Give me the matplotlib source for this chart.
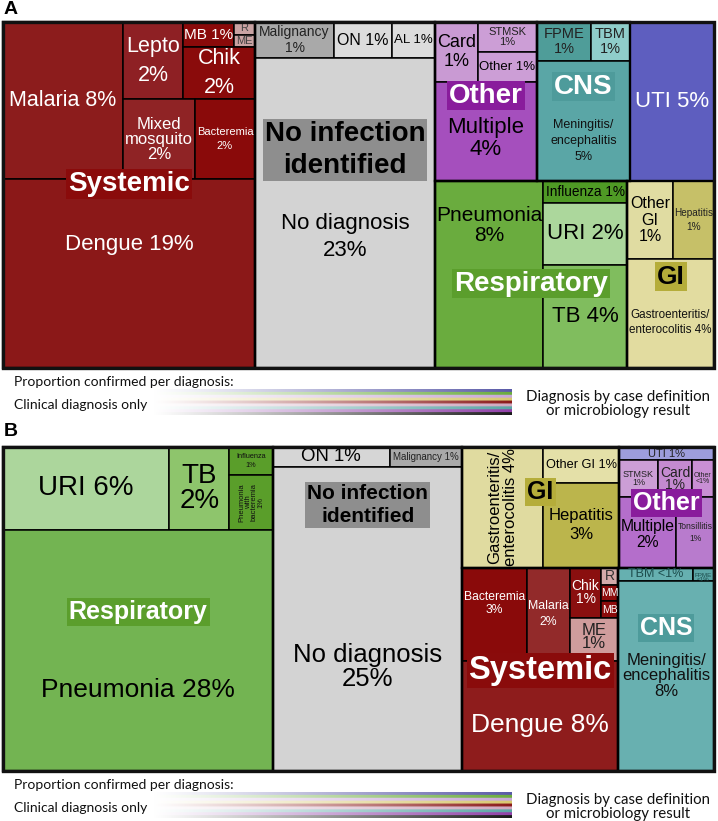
import numpy as np
import matplotlib.pyplot as plt
from matplotlib.patches import Rectangle
from matplotlib.colors import to_rgb

# Panel A: share of patients (%) per diagnosis
a_names = ['Malaria', 'Lepto', 'MB', 'R', 'ME', 'Chik', 'Mixed', 'Bacteremia', 'Dengue',
           'Malignancy', 'ON', 'AL', 'No diagnosis',
           'Card', 'STMSK', 'Other 1%', 'Multiple',
           'FPME', 'TBM', 'Meningitis', 'UTI',
           'Pneumonia', 'Influenza', 'URI', 'TB',
           'Other GI', 'Hepatitis', 'Gastro']
a_values = [7.66, 1.88, 0.52, 0.11, 0.11, 1.52, 2.34, 1.95, 19.36,
            1.16, 0.85, 0.63, 22.68,
            1.05, 0.72, 0.72, 4.10,
            0.86, 0.62, 4.54, 5.43,
            8.21, 0.75, 2.12, 3.52,
            1.46, 1.30, 3.85]

# Panel B
b_names = ['URI', 'TB', 'Influenza', 'PwB', 'Pneumonia',
           'ON', 'Malignancy', 'No diagnosis',
           'Gastro', 'Other GI', 'Hepatitis',
           'UTI', 'STMSK', 'Card', 'Other', 'Multiple', 'Tonsillitis',
           'Bacteremia', 'Malaria', 'Chik', 'R', 'MM', 'MB', 'ME', 'Dengue',
           'TBM', 'FPME', 'Meningitis']
b_values = [5.98, 2.16, 0.53, 1.05, 28.25,
            1.01, 0.63, 24.94,
            4.25, 1.17, 2.77,
            0.54, 0.64, 0.54, 0.36, 1.76, 1.15,
            2.62, 1.74, 0.67, 0.125, 0.125, 0.12, 0.90, 7.45,
            0.42, 0.12, 7.92]

# how the boxes nest: 'h' = side by side, 'v' = stacked; optional 3rd item = group name
a_tree = ('h', [
    ('v', [('h', ['Malaria',
                  ('v', [('h', ['Lepto', ('v', [('h', ['MB', ('v', ['R', 'ME'])]), 'Chik'])]),
                         ('h', ['Mixed', 'Bacteremia'])])]),
           'Dengue'], 'Systemic'),
    ('v', [('h', ['Malignancy', 'ON', 'AL']), 'No diagnosis'], 'No infection'),
    ('v', [('h', [('v', [('h', ['Card', ('v', ['STMSK', 'Other 1%'])]), 'Multiple'], 'Other'),
                  ('v', [('h', ['FPME', 'TBM']), 'Meningitis'], 'CNS'),
                  'UTI']),
           ('h', [('h', ['Pneumonia', ('v', ['Influenza', 'URI', 'TB'])], 'Respiratory'),
                  ('v', [('h', ['Other GI', 'Hepatitis']), 'Gastro'], 'GI')])]),
])

b_tree = ('h', [
    ('v', [('h', ['URI', 'TB', ('v', ['Influenza', 'PwB'])]), 'Pneumonia'], 'Respiratory'),
    ('v', [('h', ['ON', 'Malignancy']), 'No diagnosis'], 'No infection'),
    ('v', [('h', [('h', ['Gastro', ('v', ['Other GI', 'Hepatitis'])], 'GI'),
                  ('v', ['UTI', ('h', ['STMSK', 'Card', 'Other']), ('h', ['Multiple', 'Tonsillitis'])], 'Other')]),
           ('h', [('v', [('h', ['Bacteremia', 'Malaria',
                                ('v', [('h', ['Chik', ('v', ['R', 'MM', 'MB'])]), 'ME'])]),
                         'Dengue'], 'Systemic'),
                  ('v', [('h', ['TBM', 'FPME']), 'Meningitis'], 'CNS')])]),
])

# label text, size (pt), text colour, box colour, extra options
a_style = {
    'Malaria': ('Malaria 8%', 15.5, 'white', '#8c1c1c', {}),
    'Lepto': ('Lepto\n2%', 15.5, 'white', '#8e2024', {'linespacing': 1.5}),
    'MB': ('MB 1%', 11, 'white', '#8a0a0a', {}),
    'R': ('R', 8, '#444444', '#c9a3a3', {}),
    'ME': ('ME', 8, '#444444', '#c9a3a3', {}),
    'Chik': ('Chik\n2%', 15.5, 'white', '#8a0b0b', {'linespacing': 1.5}),
    'Mixed': ('Mixed\nmosquito\n2%', 12, 'white', '#8f2325', {'linespacing': 1.0}),
    'Bacteremia': ('Bacteremia\n2%', 8, 'white', '#8a0a0a', {'linespacing': 1.6}),
    'Dengue': ('Dengue 19%', 16, 'white', '#8b1818', {'dy': -29}),
    'Malignancy': ('Malignancy\n1%', 10, '#222222', '#a9a9a9', {}),
    'ON': ('ON 1%', 11.5, 'black', '#dcdcdc', {}),
    'AL': ('AL 1%', 9.5, 'black', '#dcdcdc', {}),
    'No diagnosis': ('No diagnosis\n23%', 16, 'black', '#d3d3d3', {'dy': 24, 'linespacing': 1.35}),
    'Card': ('Card\n1%', 13, 'black', '#c99ad3', {}),
    'STMSK': ('STMSK\n1%', 8, '#222222', '#cc9ed6', {'linespacing': 0.9}),
    'Other 1%': ('Other 1%', 9.5, 'black', '#cc9ed6', {}),
    'Multiple': ('Multiple\n4%', 16, 'black', '#a54fbd', {'dy': 7}),
    'FPME': ('FPME\n1%', 10.5, '#222222', '#4f9d99', {}),
    'TBM': ('TBM\n1%', 10.5, '#222222', '#8fcdca', {}),
    'Meningitis': ('Meningitis/\nencephalitis\n5%', 9, '#111111', '#5aa6a6', {'dy': 20, 'linespacing': 1.4}),
    'UTI': ('UTI 5%', 16, 'white', '#5e5ebf', {}),
    'Pneumonia': ('Pneumonia\n8%', 15, 'black', '#6aac3e', {'dy': -49}),
    'Influenza': ('Influenza 1%', 9.8, 'black', '#4f9a25', {}),
    'URI': ('URI 2%', 16, 'black', '#acd79c', {}),
    'TB': ('TB 4%', 16, 'black', '#80bd5e', {}),
    'Other GI': ('Other\nGI\n1%', 11.5, 'black', '#e0dca2', {}),
    'Hepatitis': ('Hepatitis\n1%', 7.2, '#222222', '#c6c068', {'linespacing': 1.5}),
    'Gastro': ('Gastroenteritis/\nenterocolitis 4%', 8.4, '#111111', '#e2dca0', {'dy': 9, 'linespacing': 1.4}),
}

b_style = {
    'URI': ('URI 6%', 20, 'black', '#acd69c', {}),
    'TB': ('TB\n2%', 20, 'black', '#8ec56c', {'linespacing': 0.95}),
    'Influenza': ('Influenza\n1%', 5.3, '#111111', '#5a9e2a', {'linespacing': 1.3}),
    'PwB': ('Pneumonia\nwith\nbacteremia\n1%', 5.5, '#111111', '#5a9e2a',
            {'rotation': 90, 'linespacing': 0.85}),
    'Pneumonia': ('Pneumonia 28%', 19, 'black', '#73b452', {'dy': 40}),
    'ON': ('ON 1%', 13.4, 'black', '#d6d6d6', {}),
    'Malignancy': ('Malignancy 1%', 7, '#222222', '#a9a9a9', {}),
    'No diagnosis': ('No diagnosis\n25%', 18.5, 'black', '#d3d3d3', {'dy': 48, 'linespacing': 0.95}),
    'Gastro': ('Gastroenteritis/\nenterocolitis 4%', 12, 'black', '#e0dba0', {'rotation': 90}),
    'Other GI': ('Other GI 1%', 9.2, 'black', '#e4e0a8', {}),
    'Hepatitis': ('Hepatitis\n3%', 12, 'black', '#bbb54c', {'linespacing': 1.3}),
    'UTI': ('UTI 1%', 8, '#222222', '#9d9ddc', {}),
    'STMSK': ('STMSK\n1%', 6.5, '#222222', '#cc9ed6', {'linespacing': 0.85}),
    'Card': ('Card\n1%', 10, '#222222', '#c48ad0', {'linespacing': 0.85}),
    'Other': ('Other\n<1%', 5, '#222222', '#c98fd4', {'linespacing': 0.85}),
    'Multiple': ('Multiple\n2%', 11.3, 'black', '#b46ecb', {'dy': 2}),
    'Tonsillitis': ('Tonsillitis\n1%', 6.2, '#222222', '#b87bcd', {'linespacing': 1.4}),
    'Bacteremia': ('Bacteremia\n3%', 8.7, 'white', '#8a0a0a', {'dy': -11}),
    'Malaria': ('Malaria\n2%', 8.8, 'white', '#922a2a', {'linespacing': 1.4}),
    'Chik': ('Chik\n1%', 10, 'white', '#8a0f0f', {'linespacing': 0.9}),
    'R': ('R', 10, '#333333', '#d3a9a9', {}),
    'MM': ('MM', 7.5, 'white', '#8b0b0b', {}),
    'MB': ('MB', 7.5, 'white', '#8b0b0b', {}),
    'ME': ('ME\n1%', 12, '#222222', '#cf9c9c', {'linespacing': 0.8, 'dy': -2}),
    'Dengue': ('Dengue 8%', 19, 'white', '#8e1c1c', {'dy': 9}),
    'TBM': ('TBM <1%', 9, '#1d4d4d', '#66b0b0', {}),
    'FPME': ('FPME\n<1%', 4.5, '#1d4d4d', '#5ba6a6', {'linespacing': 0.8, 'dy': 3}),
    'Meningitis': ('Meningitis/\nencephalitis\n8%', 12, '#111111', '#68b0b0', {'linespacing': 1.05}),
}

# group label: text, size, text colour, background, vertical shift (px)
a_groups = {
    'Systemic': ('Systemic', 20, 'white', '#8a0b0b', -11),
    'No infection': ('No infection\nidentified', 20, 'black', '#8e8e8e', -45),
    'Other': ('Other', 20, 'white', '#891c9c', -6),
    'CNS': ('CNS', 20, 'white', '#4e9b9b', -15),
    'Respiratory': ('Respiratory', 20, 'white', '#5b9e2c', 9),
    'GI': ('GI', 19, 'black', '#b5ad3a', 2),
}
b_groups = {
    'Respiratory': ('Respiratory', 18, 'white', '#5b9e2c', 3),
    'No infection': ('No infection\nidentified', 15, 'black', '#8e8e8e', -104),
    'GI': ('GI', 18, 'black', '#b5ad3a', -15),
    'Other': ('Other', 18, 'white', '#891c9c', -4),
    'Systemic': ('Systemic', 23.5, 'white', '#8a0b0b', 1),
    'CNS': ('CNS', 18, 'white', '#4e9b9b', -41),
}

stripe_colors = ['#5a5aa8', '#6aac3c', '#c8a8d8', '#d8c870', '#8b1a1a',
                 '#d0a8c0', '#5aa5a5', '#9040a8', '#1a1a1a']

SANS = ['Liberation Sans', 'DejaVu Sans']
LEGEND_FONT = ['Lato', 'DejaVu Sans']


def total(node, vals):
    if isinstance(node, str):
        return vals[node]
    return sum(total(k, vals) for k in node[1])


def layout(node, vals, x, y, w, h, leaves, groups):
    if isinstance(node, str):
        leaves[node] = (x, y, w, h)
        return
    if len(node) > 2:
        groups[node[2]] = (x, y, w, h)
    sizes = [total(k, vals) for k in node[1]]
    s = sum(sizes)
    pos = 0
    for k, v in zip(node[1], sizes):
        if node[0] == 'h':
            layout(k, vals, x + w * pos / s, y, w * v / s, h, leaves, groups)
        else:
            layout(k, vals, x, y + h * pos / s, w, h * v / s, leaves, groups)
        pos += v


def draw_panel(ax, names, values, tree, style, group_style, box):
    vals = dict(zip(names, values))
    leaves, groups = {}, {}
    layout(tree, vals, *box, leaves, groups)
    for name, (x, y, w, h) in leaves.items():
        text, size, tcol, fcol, opt = style[name]
        ax.add_patch(Rectangle((x, y), w, h, facecolor=fcol, edgecolor='black', lw=1.1, zorder=1))
        ax.text(x + w / 2, y + h / 2 + opt.get('dy', 0), text, fontsize=size, color=tcol,
                ha='center', va='center', rotation=opt.get('rotation', 0),
                linespacing=opt.get('linespacing', 1.1), family=SANS, zorder=3)
    for name, (x, y, w, h) in groups.items():
        ax.add_patch(Rectangle((x, y), w, h, facecolor='none', edgecolor='black', lw=1.7, zorder=2))
        text, size, tcol, bg, dy = group_style[name]
        ax.text(x + w / 2, y + h / 2 + dy, text, fontsize=size, color=tcol, fontweight='bold',
                ha='center', va='center', family=SANS, linespacing=1.3, zorder=4,
                bbox=dict(facecolor=bg, edgecolor='none', pad=1.5))
    ax.add_patch(Rectangle(box[:2], box[2], box[3], facecolor='none', edgecolor='#111111', lw=2.4, zorder=5))


def draw_legend(ax, y0):
    ax.text(14, y0 + 14, 'Proportion confirmed per diagnosis:', fontsize=10, family=LEGEND_FONT,
            ha='left', va='center', color='#111111')
    ax.text(14, y0 + 37, 'Clinical diagnosis only', fontsize=10, family=LEGEND_FONT,
            ha='left', va='center', color='#111111')
    t = np.linspace(0, 1, 300) ** 1.1
    rows = []
    for c in stripe_colors:
        rgb = np.array(to_rgb(c))
        row = (1 - t)[:, None] * np.ones(3) + t[:, None] * rgb
        rows += [row] * 3
    img = np.array(rows)
    ax.imshow(img, extent=(153, 512, y0 + 47, y0 + 21), aspect='auto', interpolation='bilinear', zorder=1)
    ax.text(618, y0 + 29, 'Diagnosis by case definition', fontsize=10.8, family=LEGEND_FONT,
            ha='center', va='center', color='#111111')
    ax.text(618, y0 + 43, 'or microbiology result', fontsize=10.8, family=LEGEND_FONT,
            ha='center', va='center', color='#111111')


fig = plt.figure(figsize=(7.18, 8.21), dpi=100)
ax = fig.add_axes([0, 0, 1, 1])

draw_panel(ax, a_names, a_values, a_tree, a_style, a_groups, (3, 22, 711, 346))
draw_legend(ax, 368)
draw_panel(ax, b_names, b_values, b_tree, b_style, b_groups, (3, 447, 711, 324))
draw_legend(ax, 771)

ax.text(4, 10, 'A', fontsize=14, fontweight='bold', family=SANS, ha='left', va='center')
ax.text(4, 432, 'B', fontsize=14, fontweight='bold', family=SANS, ha='left', va='center')

ax.set_xlim(0, 718)
ax.set_ylim(821, 0)
ax.axis('off')

fig.savefig('out.png', dpi=100, facecolor='white')
